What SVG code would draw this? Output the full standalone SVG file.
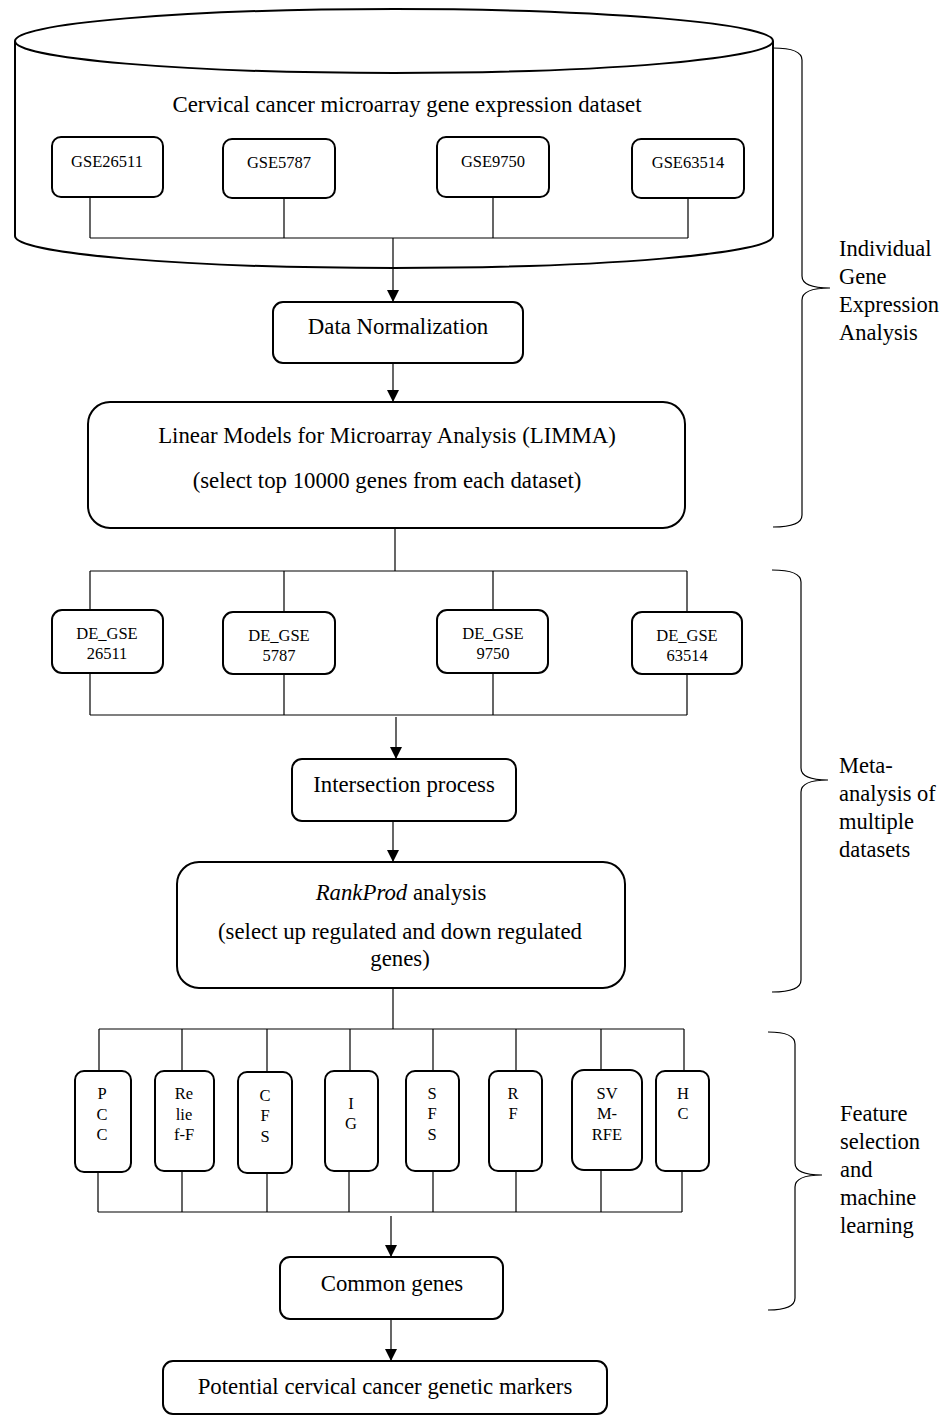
<svg xmlns="http://www.w3.org/2000/svg" width="949" height="1416" viewBox="0 0 949 1416">
<style>
  .box { fill: #fff; stroke: #000; stroke-width: 2; }
  .ln { fill: none; stroke: #000; stroke-width: 1.2; }
  .br { fill: none; stroke: #000; stroke-width: 1.2; }
  text { font-family: "Liberation Serif", "Times New Roman", serif; fill: #000; }
  .t22 { font-size: 22.8px; text-anchor: middle; }
  .t16 { font-size: 16.5px; text-anchor: middle; }
  .side { font-size: 22.5px; text-anchor: start; }
</style>
<defs>
  <marker id="ah" markerUnits="userSpaceOnUse" markerWidth="12" markerHeight="12" refX="12" refY="6" orient="auto">
    <path d="M0,0 L12,6 L0,12 Z" fill="#000"/>
  </marker>
</defs>
<rect width="949" height="1416" fill="#fff"/>

<g id="cylinder">
  <path class="box" d="M15,41 L15,236 A379,32 0 0 0 773,236 L773,41"/>
  <ellipse class="box" cx="394" cy="41" rx="379" ry="32"/>
  <text class="t22" x="407" y="112">Cervical cancer microarray gene expression dataset</text>
</g>

<g id="gse26511"><rect class="box" x="52" y="137" width="111" height="60" rx="9"/><text class="t16" x="107" y="167">GSE26511</text></g>
<g id="gse5787"><rect class="box" x="223" y="139" width="112" height="59" rx="9"/><text class="t16" x="279" y="168">GSE5787</text></g>
<g id="gse9750"><rect class="box" x="437" y="137" width="112" height="60" rx="9"/><text class="t16" x="493" y="167">GSE9750</text></g>
<g id="gse63514"><rect class="box" x="632" y="139" width="112" height="59" rx="9"/><text class="t16" x="688" y="168">GSE63514</text></g>

<g id="connectors">
  <path class="ln" d="M90,197 V238 M284,198 V238 M493,197 V238 M688,198 V238 M90,238 H688"/>
  <path class="ln" d="M393,238 V302" marker-end="url(#ah)"/>
  <path class="ln" d="M393,363 V402" marker-end="url(#ah)"/>
  <path class="ln" d="M395,528 V571"/>
  <path class="ln" d="M90,571 H687 M90,571 V610 M284,571 V612 M493,571 V610 M687,571 V612"/>
  <path class="ln" d="M90,673 V715 M284,674 V715 M493,673 V715 M687,674 V715 M90,715 H687"/>
  <path class="ln" d="M396,717 V759" marker-end="url(#ah)"/>
  <path class="ln" d="M393,821 V862" marker-end="url(#ah)"/>
  <path class="ln" d="M393,988 V1029"/>
  <path class="ln" d="M99,1029 H684 M99,1029 V1071 M182,1029 V1071 M267,1029 V1072 M350,1029 V1071 M433,1029 V1071 M516,1029 V1071 M601,1029 V1070 M684,1029 V1071"/>
  <path class="ln" d="M98,1172 V1212 M182,1171 V1212 M267,1173 V1212 M349,1171 V1212 M433,1171 V1212 M516,1171 V1212 M601,1170 V1212 M682,1171 V1212 M98,1212 H682"/>
  <path class="ln" d="M391,1216 V1257" marker-end="url(#ah)"/>
  <path class="ln" d="M391,1319 V1361" marker-end="url(#ah)"/>
</g>

<g id="normalization"><rect class="box" x="273" y="302" width="250" height="61" rx="10"/><text class="t22" x="398" y="334">Data Normalization</text></g>

<g id="limma"><rect class="box" x="88" y="402" width="597" height="126" rx="22"/>
  <text class="t22" x="387" y="443">Linear Models for Microarray Analysis (LIMMA)</text>
  <text class="t22" x="387" y="488">(select top 10000 genes from each dataset)</text>
</g>

<g id="de26511"><rect class="box" x="52" y="610" width="111" height="63" rx="10"/><text class="t16" x="107" y="639">DE_GSE</text><text class="t16" x="107" y="659">26511</text></g>
<g id="de5787"><rect class="box" x="223" y="612" width="112" height="62" rx="10"/><text class="t16" x="279" y="641">DE_GSE</text><text class="t16" x="279" y="661">5787</text></g>
<g id="de9750"><rect class="box" x="437" y="610" width="111" height="63" rx="10"/><text class="t16" x="493" y="639">DE_GSE</text><text class="t16" x="493" y="659">9750</text></g>
<g id="de63514"><rect class="box" x="632" y="612" width="110" height="62" rx="10"/><text class="t16" x="687" y="641">DE_GSE</text><text class="t16" x="687" y="661">63514</text></g>

<g id="intersection"><rect class="box" x="292" y="759" width="224" height="62" rx="10"/><text class="t22" x="404" y="792">Intersection process</text></g>

<g id="rankprod"><rect class="box" x="177" y="862" width="448" height="126" rx="22"/>
  <text class="t22" x="401" y="900"><tspan font-style="italic">RankProd</tspan> analysis</text>
  <text class="t22" x="400" y="939">(select up regulated and down regulated</text>
  <text class="t22" x="400" y="966">genes)</text>
</g>

<g id="pcc"><rect class="box" x="75" y="1071" width="56" height="101" rx="9"/><text class="t16" x="102" y="1099">P</text><text class="t16" x="102" y="1120">C</text><text class="t16" x="102" y="1140">C</text></g>
<g id="relieff"><rect class="box" x="155" y="1071" width="59" height="100" rx="9"/><text class="t16" x="184" y="1099">Re</text><text class="t16" x="184" y="1120">lie</text><text class="t16" x="184" y="1140">f-F</text></g>
<g id="cfs"><rect class="box" x="238" y="1072" width="54" height="101" rx="9"/><text class="t16" x="265" y="1101">C</text><text class="t16" x="265" y="1121">F</text><text class="t16" x="265" y="1142">S</text></g>
<g id="ig"><rect class="box" x="325" y="1071" width="53" height="100" rx="9"/><text class="t16" x="351" y="1109">I</text><text class="t16" x="351" y="1129">G</text></g>
<g id="sfs"><rect class="box" x="406" y="1071" width="53" height="100" rx="9"/><text class="t16" x="432" y="1099">S</text><text class="t16" x="432" y="1119">F</text><text class="t16" x="432" y="1140">S</text></g>
<g id="rf"><rect class="box" x="489" y="1071" width="53" height="100" rx="9"/><text class="t16" x="513" y="1099">R</text><text class="t16" x="513" y="1119">F</text></g>
<g id="svmrfe"><rect class="box" x="572" y="1070" width="70" height="100" rx="12"/><text class="t16" x="607" y="1099">SV</text><text class="t16" x="607" y="1119">M-</text><text class="t16" x="607" y="1140">RFE</text></g>
<g id="hc"><rect class="box" x="656" y="1071" width="53" height="100" rx="9"/><text class="t16" x="683" y="1099">H</text><text class="t16" x="683" y="1119">C</text></g>

<g id="common"><rect class="box" x="280" y="1257" width="223" height="62" rx="10"/><text class="t22" x="392" y="1291">Common genes</text></g>

<g id="markers"><rect class="box" x="163" y="1361" width="444" height="53" rx="10"/><text class="t22" x="385" y="1394">Potential cervical cancer genetic markers</text></g>

<g id="brace1">
  <path class="br" d="M773,48 Q802,48 802,60 L802,276 Q802,288 830,288 Q802,288 802,300 L802,515 Q802,527 773,527"/>
  <text class="side" x="839" y="256">Individual</text>
  <text class="side" x="839" y="284">Gene</text>
  <text class="side" x="839" y="312">Expression</text>
  <text class="side" x="839" y="340">Analysis</text>
</g>
<g id="brace2">
  <path class="br" d="M772,570 Q801,570 801,582 L801,768 Q801,780 828,780 Q801,780 801,792 L801,980 Q801,992 772,992"/>
  <text class="side" x="839" y="773">Meta-</text>
  <text class="side" x="839" y="801">analysis of</text>
  <text class="side" x="839" y="829">multiple</text>
  <text class="side" x="839" y="857">datasets</text>
</g>
<g id="brace3">
  <path class="br" d="M768,1032 Q795,1032 795,1044 L795,1163 Q795,1175 822,1175 Q795,1175 795,1187 L795,1298 Q795,1310 768,1310"/>
  <text class="side" x="840" y="1121">Feature</text>
  <text class="side" x="840" y="1149">selection</text>
  <text class="side" x="840" y="1177">and</text>
  <text class="side" x="840" y="1205">machine</text>
  <text class="side" x="840" y="1233">learning</text>
</g>
</svg>
